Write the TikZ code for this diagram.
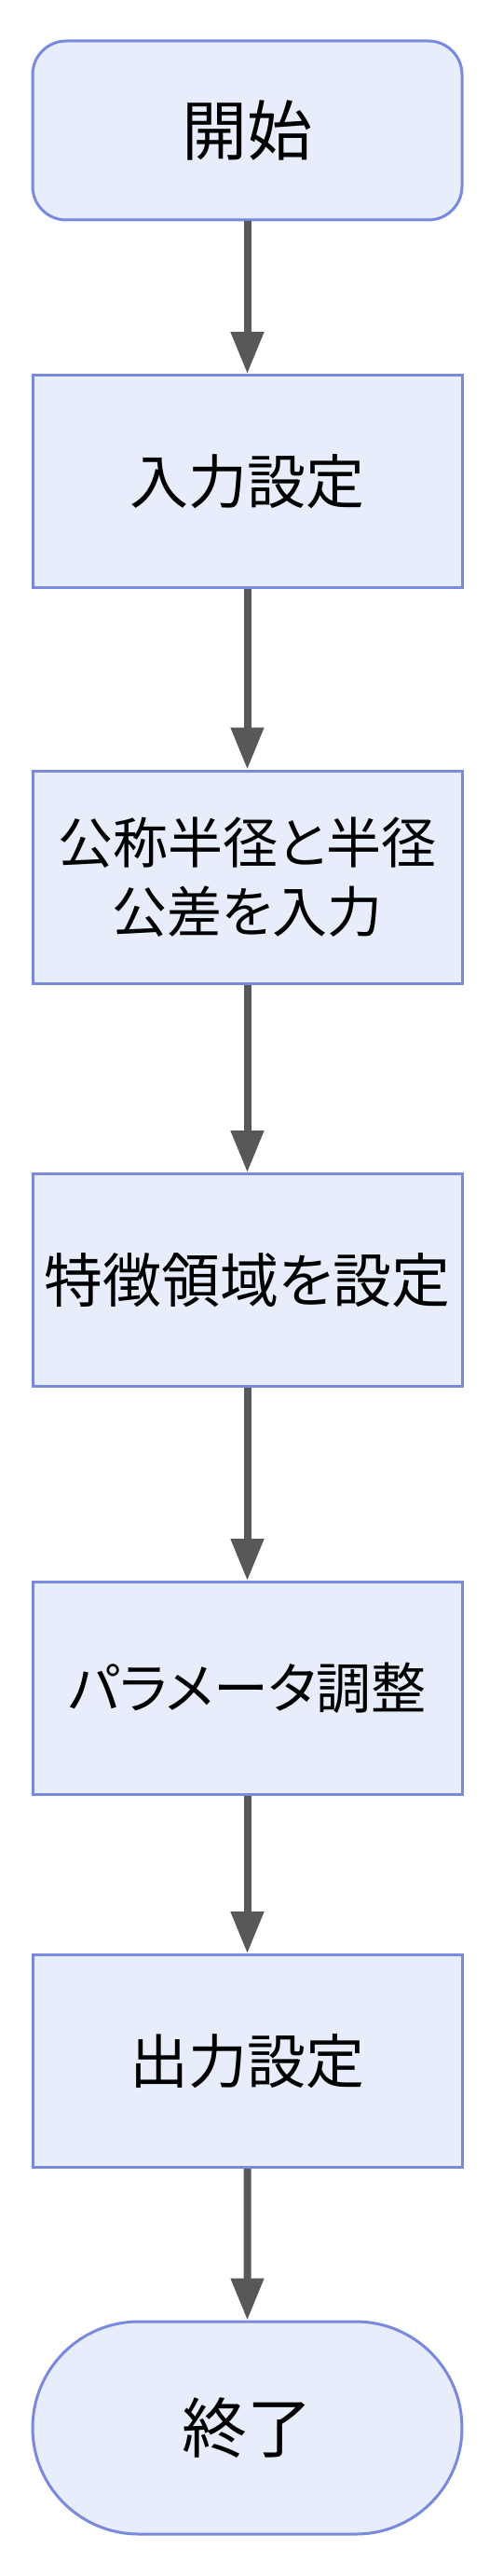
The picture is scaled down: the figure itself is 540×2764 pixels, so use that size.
\documentclass[tikz,border=0pt]{standalone}
\usepackage{fontspec}
\setmainfont{Noto Sans CJK JP}[RawFeature=+palt]
\usepackage{tikz}
\usetikzlibrary{positioning,arrows.meta,shapes.misc}
\def\cx{265.5}
\def\boxw{461pt}
\newcommand\flowfont{\fontsize{63}{74}\selectfont}
\newcommand\smallflowfont{\fontsize{59}{74}\selectfont}
\newcommand\bigflowfont{\fontsize{70}{80}\selectfont}
\definecolor{boxfill}{RGB}{232,237,251}
\definecolor{boxline}{RGB}{120,137,222}
\definecolor{flowgray}{RGB}{88,88,88}
\tikzstyle{startbox}  = [rectangle, rounded corners=36pt, minimum width=\boxw, minimum height=192pt, inner sep=0pt, text centered, draw=boxline, line width=3pt, fill=boxfill, font=\bigflowfont]
\tikzstyle{process}   = [rectangle, minimum width=\boxw, minimum height=228pt, inner sep=0pt, align=center, draw=boxline, line width=3pt, fill=boxfill, font=\flowfont]
\tikzstyle{endbox}    = [rounded rectangle, minimum width=\boxw, minimum height=228pt, inner sep=0pt, text centered, draw=boxline, line width=3pt, fill=boxfill, font=\bigflowfont]
\tikzstyle{arrow}     = [line width=8pt, flowgray, -{Triangle[width=34pt,length=45pt]}]

\begin{document}
\begin{tikzpicture}[x=1pt,y=1pt]
		\useasboundingbox (0,0) rectangle (540,-2764);
		\node (start)  [startbox] at (\cx,-140)    {開始};
		\node (input)  [process]  at (\cx,-516.5)  {入力設定};
		\node (radius) [process, font=\smallflowfont] at (\cx,-941) {公称半径と半径\\公差を入力};
		\node (region) [process]  at (\cx,-1373.5) {特徴領域を設定};
		\node (param)  [process, font=\smallflowfont] at (\cx,-1811.5) {パラメータ調整};
		\node (output) [process]  at (\cx,-2211.5) {出力設定};
		\node (stop)   [endbox]   at (\cx,-2605)   {終了};
		\draw[arrow] (start) -- (input);
		\draw[arrow] (input) -- (radius);
		\draw[arrow] (radius) -- (region);
		\draw[arrow] (region) -- (param);
		\draw[arrow] (param) -- (output);
		\draw[arrow] (output) -- (stop);
	\end{tikzpicture}
\end{document}
